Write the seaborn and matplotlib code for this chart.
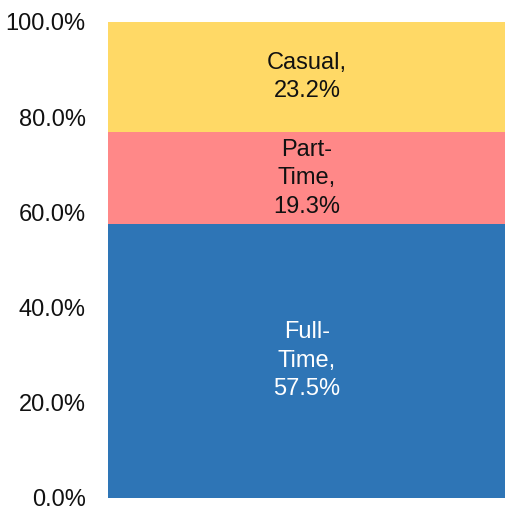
import matplotlib
matplotlib.use("Agg")
import matplotlib.pyplot as plt
import seaborn as sns
import pandas as pd
import numpy as np

categories = ["Full-Time", "Part-Time", "Casual"]
values = [57.5, 19.3, 23.2]
label_texts = ["Full-\nTime,\n57.5%", "Part-\nTime,\n19.3%", "Casual,\n23.2%"]
colors = ["#2E75B6", "#FF8888", "#FFD966"]
text_colors = ["white", "#111111", "#111111"]
tick_vals = [0, 20, 40, 60, 80, 100]
tick_labels = ["0.0%", "20.0%", "40.0%", "60.0%", "80.0%", "100.0%"]

sns.set_theme(style="white")
plt.rcParams["font.family"] = ["Liberation Sans", "DejaVu Sans"]

fig = plt.figure(figsize=(5.06, 5.07), dpi=100)
ax = fig.add_axes([108/506, 9.5/507, 398/506, 475.5/507])

cum = np.cumsum(values)
# draw from top of stack down so lower segments overlay
for i in reversed(range(len(values))):
    df = pd.DataFrame({"g": ["all"], "v": [cum[i]]})
    sns.barplot(data=df, x="g", y="v", color=colors[i], width=0.8,
                saturation=1, ax=ax, linewidth=0, edgecolor="none")

bottoms = np.concatenate([[0], cum[:-1]])
for i in range(len(values)):
    ax.text(0, bottoms[i] + values[i] / 2, label_texts[i], ha="center", va="center",
            fontsize=17, color=text_colors[i], linespacing=1.38)

ax.set_xlim(-0.4, 0.4)
ax.set_ylim(0, 100)
ax.set_yticks(tick_vals)
ax.set_yticklabels(tick_labels)
ax.tick_params(axis="y", length=0, pad=16, labelsize=17, labelcolor="#111111")
ax.set_xticks([])
ax.set_xlabel("")
ax.set_ylabel("")
for s in ax.spines.values():
    s.set_visible(False)

fig.savefig("out.png", dpi=100, facecolor="white")
